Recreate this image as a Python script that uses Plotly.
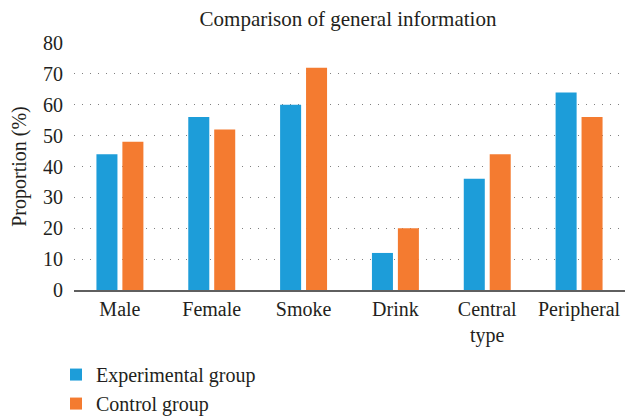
import plotly.graph_objects as go

categories = ["Male", "Female", "Smoke", "Drink", "Central<br>type", "Peripheral"]
experimental = [44, 56, 60, 12, 36, 64]
control = [48, 52, 72, 20, 44, 56]
y_ticks = [0, 10, 20, 30, 40, 50, 60, 70, 80]

FONT = "Liberation Serif"
fig = go.Figure()
fig.add_trace(go.Bar(x=categories, y=experimental, name="Experimental group",
                     marker=dict(color="#1d9dd9", line=dict(width=0))))
fig.add_trace(go.Bar(x=categories, y=control, name="Control group",
                     marker=dict(color="#f47b30", line=dict(width=0))))

# page body has an 8px margin, so the figure is 8px smaller and margins shifted
fig.update_layout(
    width=625, height=409,
    margin=dict(l=66, r=8, t=35, b=127, autoexpand=False),
    paper_bgcolor="white", plot_bgcolor="white",
    font=dict(family=FONT, size=20, color="#231f20"),
    title=dict(text="Comparison of general information", x=0.544, xanchor="center",
               y=0.973, yanchor="middle", font=dict(size=21)),
    barmode="group", bargap=0.435, bargroupgap=0.19,
    legend=dict(orientation="v", x=-0.0327, xanchor="left",
                y=-0.2634, yanchor="top",
                font=dict(size=20), itemwidth=30, tracegroupgap=0),
    showlegend=True,
)
fig.update_xaxes(showline=True, linecolor="#5f5f5f", linewidth=2, ticks="",
                 showgrid=False, tickfont=dict(size=20), tickangle=0, automargin=False)
fig.update_yaxes(range=[0, 80], tickvals=y_ticks, showgrid=True,
                 gridcolor="#808080", gridwidth=1, griddash="1px,7px",
                 zeroline=False, ticks="", ticklabelstandoff=10, automargin=False,
                 title=dict(text="Proportion (%)", standoff=15, font=dict(size=20)),
                 tickfont=dict(size=20))

fig.write_html("out.html")
